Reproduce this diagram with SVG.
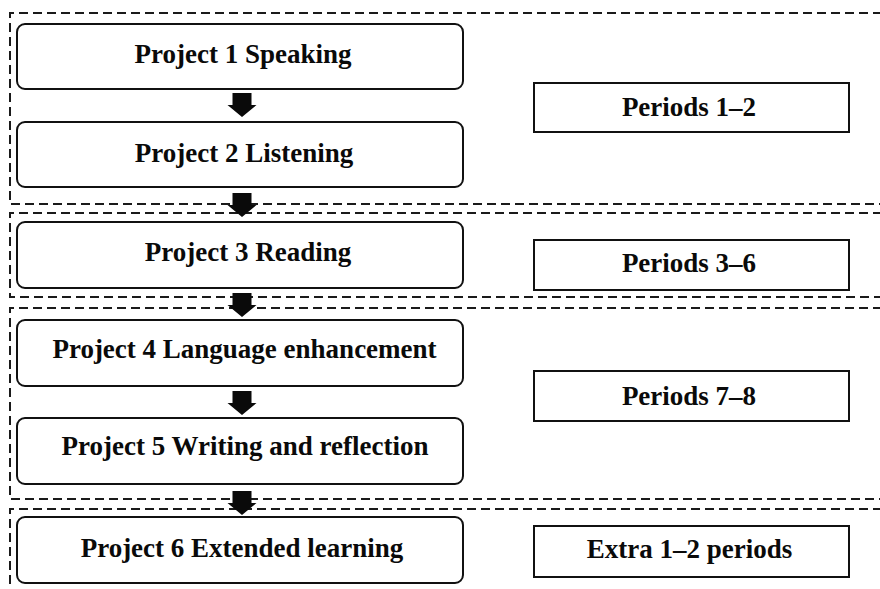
<svg xmlns="http://www.w3.org/2000/svg" width="880" height="589" viewBox="0 0 880 589">
  <style>
    .zone { fill: none; stroke: #1a1a1a; stroke-width: 2; stroke-dasharray: 9 5; }
    .step { fill: #ffffff; stroke: #111111; stroke-width: 2; }
    .period { fill: #ffffff; stroke: #111111; stroke-width: 2; }
    .label { font-family: "Liberation Serif", "Times New Roman", serif; font-weight: bold; font-size: 27px; fill: #0a0a0a; text-anchor: middle; }
    .arrow { fill: #0a0a0a; }
  </style>
  <defs>
    <!-- block arrow pointing down, tip at (0,24) -->
    <path id="down" d="M -9.5 0 H 9.5 V 12 H 14.5 L 0 24 L -14.5 12 H -9.5 Z"/>
  </defs>

  <rect width="880" height="589" fill="#ffffff"/>

  <!-- dashed time blocks, open to the right -->
  <g id="zones">
    <path class="zone" d="M 882 13 H 10 V 204 H 882"/>
    <path class="zone" d="M 882 213 H 10 V 297 H 882"/>
    <path class="zone" d="M 882 308 H 10 V 499 H 882"/>
    <path class="zone" d="M 882 509 H 10 V 592"/>
  </g>

  <!-- connectors -->
  <g id="connectors" class="arrow">
    <use href="#down" x="242" y="93"/>
    <use href="#down" x="242" y="193"/>
    <use href="#down" x="242" y="293"/>
    <use href="#down" x="242" y="391"/>
    <use href="#down" x="242" y="491"/>
  </g>

  <g id="project1">
    <rect class="step" x="17" y="24" width="446" height="65" rx="8"/>
    <text class="label" x="243" y="63">Project 1 Speaking</text>
  </g>
  <g id="project2">
    <rect class="step" x="17" y="122" width="446" height="65" rx="8"/>
    <text class="label" x="244" y="162">Project 2 Listening</text>
  </g>
  <g id="project3">
    <rect class="step" x="17" y="222" width="446" height="66" rx="8"/>
    <text class="label" x="248" y="261">Project 3 Reading</text>
  </g>
  <g id="project4">
    <rect class="step" x="17" y="320" width="446" height="66" rx="8"/>
    <text class="label" x="244.5" y="358">Project 4 Language enhancement</text>
  </g>
  <g id="project5">
    <rect class="step" x="17" y="418" width="446" height="66" rx="8"/>
    <text class="label" x="245" y="455">Project 5 Writing and reflection</text>
  </g>
  <g id="project6">
    <rect class="step" x="17" y="517" width="446" height="66" rx="8"/>
    <text class="label" x="242" y="557">Project 6 Extended learning</text>
  </g>

  <g id="periods12">
    <rect class="period" x="534" y="83" width="315" height="49"/>
    <text class="label" x="689" y="116">Periods 1–2</text>
  </g>
  <g id="periods36">
    <rect class="period" x="534" y="240" width="315" height="50"/>
    <text class="label" x="689" y="272">Periods 3–6</text>
  </g>
  <g id="periods78">
    <rect class="period" x="534" y="371" width="315" height="50"/>
    <text class="label" x="689" y="405">Periods 7–8</text>
  </g>
  <g id="extra">
    <rect class="period" x="534" y="526" width="315" height="51"/>
    <text class="label" x="689.5" y="558">Extra 1–2 periods</text>
  </g>
</svg>
